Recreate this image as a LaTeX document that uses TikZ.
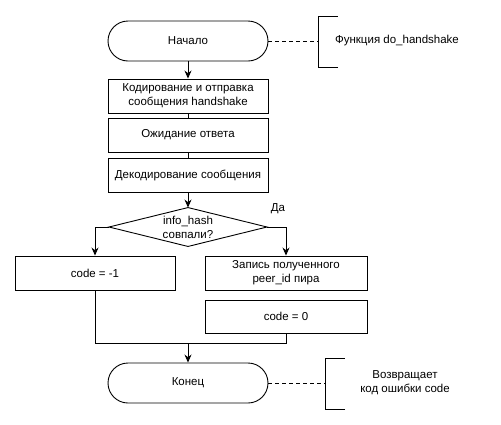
\documentclass[tikz,border=0pt]{standalone}
\usepackage{fontspec}
\setmainfont{Liberation Sans}
\usepackage{tikz}
\usetikzlibrary{positioning}
\usetikzlibrary{arrows.meta}

\begin{document}
\begin{tikzpicture}[x=1pt,y=-1pt,line width=0.9pt,
        font=\fontsize{11.5}{14}\selectfont,
        term/.style={draw,rounded corners=20pt,minimum width=160,minimum height=40},
        block/.style={draw,minimum width=160,minimum height=34,align=center,inner sep=1pt},
        note/.style={align=center},
        link/.style={-{Stealth[length=8pt,width=7pt]}},
        leader/.style={dash pattern=on 4pt off 3pt}]
      \useasboundingbox (0,0) rectangle (501,424);
      \node[term]  (start) at (188,41) {Начало};
      \node[block] (encode) at (188,96) {Кодирование и отправка\\сообщения handshake};
      \node[block] (wait) at (188,135) {Ожидание ответа};
      \node[block] (decode) at (188,175) {Декодирование сообщения};
      \node[minimum width=157,minimum height=38,align=center,inner sep=0]
           (check) at (188,227) {info\_hash\\совпали?};
      \node[block] (neg) at (95,273) {code = -1};
      \node[block,minimum width=162] (store) at (286,273) {Запись полученного\\peer\_id пира};
      \node[block,minimum width=162,minimum height=33] (zero) at (286,316.5) {code = 0};
      \node[term]  (finish) at (188,383) {Конец};
      \node (yes) at (278,209) {Да};

      % comments
      \node[note] (fn) at (397,41) {Функция do\_handshake};
      \node[note] (ret) at (405,383) {Возвращает\\код ошибки code};
      \coordinate (fnbr) at (318,41);
      \coordinate (retbr) at (325,383);
      \draw ([xshift=20,yshift=-26]fnbr) -- ([yshift=-26]fnbr) -- ([yshift=25]fnbr) -- ++(20,0);
      \draw ([xshift=20,yshift=-26]retbr) -- ([yshift=-26]retbr) -- ([yshift=25]retbr) -- ++(20,0);
      \draw[leader] (start.east) -- (fnbr);
      \draw[leader] (finish.east) -- (retbr);

      % decision
      \draw (check.north) -- (check.east) -- (check.south) -- (check.west) -- cycle;

      \draw[link] (start) -- (encode);
      \draw (encode) -- (wait);
      \draw (wait) -- (decode);
      \draw[link] (decode) -- (check.north);
      \draw[link] (check.west) -| (neg.north);
      \draw[link] (check.east) -| (store.north);
      \coordinate (join) at (188,343);
      \draw (neg.south) |- (zero.south |- join) -- (zero.south);
      \draw[link] (join) -- (finish.north);
\end{tikzpicture}
\end{document}
